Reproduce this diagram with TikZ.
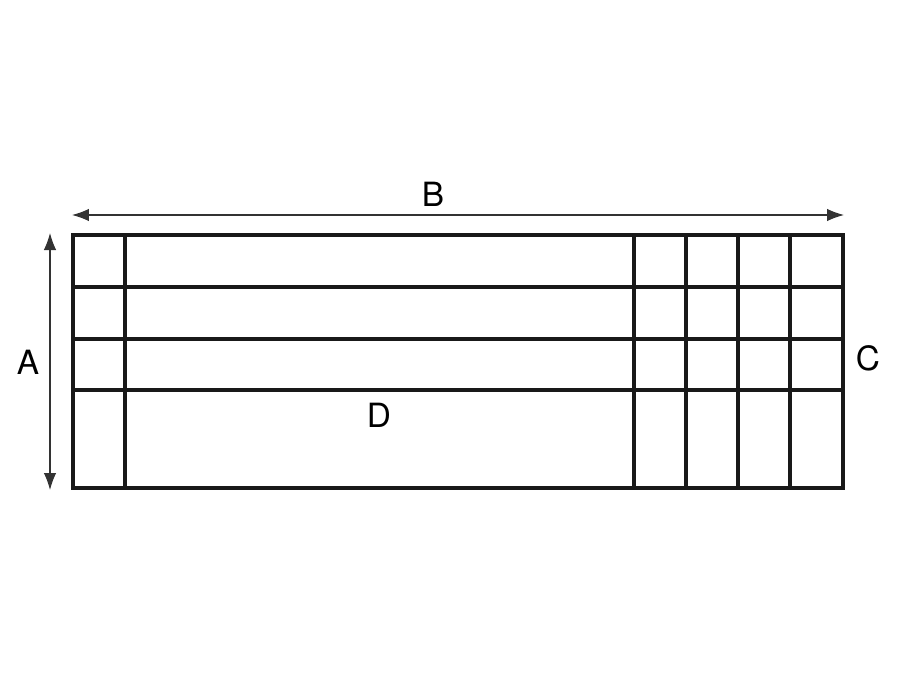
\documentclass[tikz,border=0pt]{standalone}
\usepackage{fontspec}
\setmainfont{TeX Gyre Heros}
\usetikzlibrary{arrows.meta,positioning}
\tikzset{font=\fontsize{19}{22}\selectfont}
\tikzstyle{frame}=[line width=2.2pt,black!90]
\tikzstyle{dim}=[line width=0.7pt,black!80,{Latex[length=0.34cm,width=0.25cm]}-{Latex[length=0.34cm,width=0.25cm]}]
\tikzstyle{lbl}=[inner sep=0pt]

\begin{document}
\begin{tikzpicture}
  [x=0.02cm,y=-0.02cm]
\useasboundingbox (0,0) rectangle (900,700);
% grid
\draw[frame] (73,235) rectangle (843,488);
\foreach \x in {125,634,686,738,790}
  \draw[frame] (\x,235) -- (\x,488);
\foreach \y in {287,339,390}
  \draw[frame] (73,\y) -- (843,\y);
% dimensions
\coordinate (bl) at (72,215);
\coordinate (br) at (844,215);
\coordinate (at) at (50,233);
\coordinate (ab) at (50,490);
\draw[dim] (bl) -- (br);
\draw[dim] (at) -- (ab);
\node[lbl] (b) at (433,194) {B};
\node[lbl] (a) at (28,362) {A};
\node[lbl] (c) at (868,358) {C};
\node[lbl] (d) at (379,415) {D};
\end{tikzpicture}
\end{document}
